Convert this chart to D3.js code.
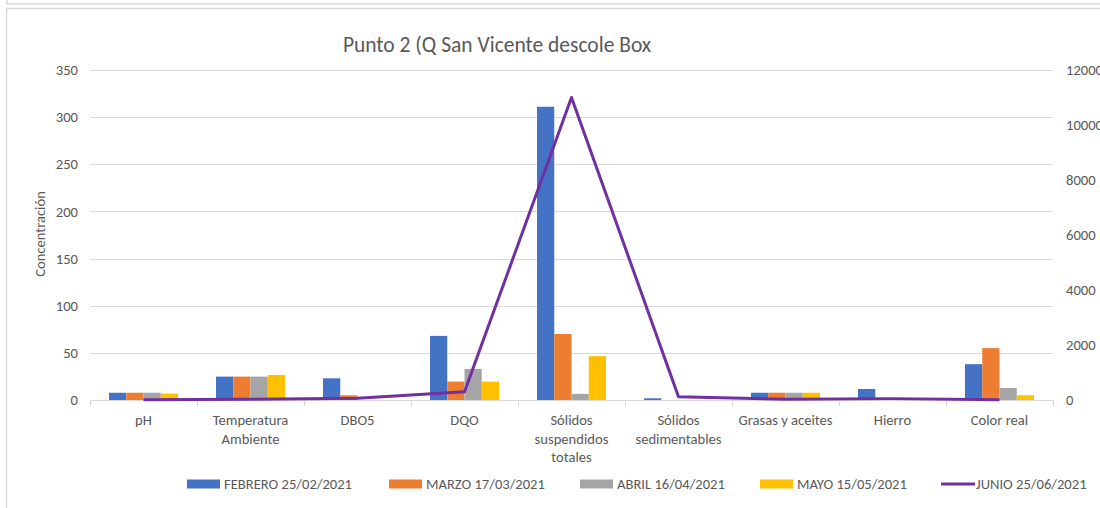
<!DOCTYPE html>
<html>
<head>
<meta charset="utf-8">
<script src="https://cdn.jsdelivr.net/npm/d3@7"></script>
<style>
  body { margin: 0; background: #fff; }
  svg { font-family: Carlito, Lato, "Open Sans", sans-serif; }
</style>
</head>
<body>
<svg id="chart" width="1100" height="508"></svg>
<script>
// Data
const categories = [
  ['pH'], ['Temperatura', 'Ambiente'], ['DBO5'], ['DQO'],
  ['Sólidos', 'suspendidos', 'totales'], ['Sólidos', 'sedimentables'],
  ['Grasas y aceites'], ['Hierro'], ['Color real']
];
const barSeries = ['FEBRERO 25/02/2021', 'MARZO 17/03/2021', 'ABRIL 16/04/2021', 'MAYO 15/05/2021'];
const lineSeries = 'JUNIO 25/06/2021';
const febrero = [7.7, 24.8, 23, 68, 311, 1.8, 7.7, 11.7, 38];
const marzo = [7.7, 24.8, 5, 19.5, 70, 0, 7.7, 0, 55];
const abril = [7.7, 24.8, 0, 33, 6.5, 0, 7.7, 0, 12.7];
const mayo = [6.8, 26.6, 0, 19.5, 46.5, 0, 7.7, 0.4, 5];
const junio = [5, 25, 60, 300, 11000, 120, 30, 50, 10];
const leftTicks = [0, 50, 100, 150, 200, 250, 300, 350];
const rightTicks = [0, 2000, 4000, 6000, 8000, 10000, 12000];
const colors = ['#4472C4', '#ED7D31', '#A5A5A5', '#FFC000'];
const lineColor = '#7030A0';

const svg = d3.select('#chart');
const textColor = '#595959';
const gridColor = '#d9d9d9';
const fontSize = '14.6px';

// chart borders
svg.append('path')
  .attr('d', 'M7,0V4H1100')
  .style('fill', 'none').style('stroke', gridColor).style('stroke-width', 1.5);
svg.append('path')
  .attr('d', 'M6.5,508V8.5H1100')
  .style('fill', 'none').style('stroke', gridColor).style('stroke-width', 1.5);

const plot = { left: 90, right: 1053, top: 70, bottom: 400 };

const x0 = d3.scaleBand()
  .domain(d3.range(categories.length))
  .range([plot.left, plot.right]);

const bw = x0.bandwidth();
const gap = 19;
const x1 = d3.scaleBand()
  .domain(d3.range(barSeries.length))
  .range([gap, bw - gap]);

const yL = d3.scaleLinear().domain([0, 350]).range([plot.bottom, plot.top]);
const yR = d3.scaleLinear().domain([0, 12000]).range([plot.bottom, plot.top]);

// Title
svg.append('text')
  .attr('x', 497).attr('y', 52)
  .attr('text-anchor', 'middle')
  .style('font-size', '21.5px')
  .style('fill', textColor)
  .text('Punto 2 (Q San Vicente descole Box');

// Gridlines
svg.append('g')
  .selectAll('line')
  .data(leftTicks.slice(1))
  .join('line')
  .attr('x1', plot.left).attr('x2', plot.right)
  .attr('y1', d => Math.round(yL(d)) + 0.5)
  .attr('y2', d => Math.round(yL(d)) + 0.5)
  .style('stroke', gridColor).style('stroke-width', 1);

// Left axis labels
const leftAxis = d3.axisLeft(yL).tickValues(leftTicks).tickSize(0).tickPadding(12);
const gL = svg.append('g')
  .attr('transform', `translate(${plot.left}, 0)`)
  .call(leftAxis);
gL.select('.domain').remove();
gL.selectAll('text').style('font-size', fontSize).style('fill', textColor)
  .style('font-family', 'Carlito, Lato, "Open Sans", sans-serif');

// Right axis labels
const rightAxis = d3.axisRight(yR).tickValues(rightTicks).tickSize(0).tickPadding(13)
  .tickFormat(d3.format('d'));
const gR = svg.append('g')
  .attr('transform', `translate(${plot.right}, 0)`)
  .call(rightAxis);
gR.select('.domain').remove();
gR.selectAll('text').style('font-size', fontSize).style('fill', textColor)
  .style('font-family', 'Carlito, Lato, "Open Sans", sans-serif');

// Y axis title
svg.append('text')
  .attr('transform', 'translate(45, 234) rotate(-90)')
  .attr('text-anchor', 'middle')
  .style('font-size', fontSize)
  .style('fill', textColor)
  .text('Concentración');

// Bars
const barData = [febrero, marzo, abril, mayo];
const barsG = svg.append('g');
barData.forEach((vals, s) => {
  barsG.selectAll(`rect.s${s}`)
    .data(vals)
    .join('rect')
    .attr('class', `s${s}`)
    .attr('x', (d, i) => x0(i) + x1(s))
    .attr('width', x1.bandwidth())
    .attr('y', d => yL(d))
    .attr('height', d => plot.bottom - yL(d))
    .style('fill', colors[s]);
});

// Category axis
svg.append('line')
  .attr('x1', plot.left).attr('x2', plot.right)
  .attr('y1', plot.bottom + 0.5).attr('y2', plot.bottom + 0.5)
  .style('stroke', gridColor).style('stroke-width', 1);
svg.append('g')
  .selectAll('line')
  .data(d3.range(categories.length + 1))
  .join('line')
  .attr('x1', i => Math.round(plot.left + i * bw) + 0.5)
  .attr('x2', i => Math.round(plot.left + i * bw) + 0.5)
  .attr('y1', plot.bottom).attr('y2', plot.bottom + 6)
  .style('stroke', gridColor);

const catLabels = svg.append('g')
  .selectAll('text')
  .data(categories)
  .join('text')
  .attr('text-anchor', 'middle')
  .attr('x', (d, i) => x0(i) + bw / 2)
  .attr('y', 425)
  .style('font-size', fontSize)
  .style('fill', textColor);
catLabels.selectAll('tspan')
  .data(d => d)
  .join('tspan')
  .attr('x', function () { return d3.select(this.parentNode).attr('x'); })
  .attr('dy', (d, i) => i === 0 ? 0 : 18.5)
  .text(d => d);

// Line series
const line = d3.line()
  .x((d, i) => x0(i) + bw / 2)
  .y(d => yR(d));
svg.append('path')
  .datum(junio)
  .attr('d', line)
  .style('fill', 'none')
  .style('stroke', lineColor)
  .style('stroke-width', 3)
  .style('stroke-linejoin', 'round');

// Legend
const legendY = 484;
const legendX = [187, 389, 580, 760, 941];
const legendItems = barSeries.concat([lineSeries]);
const legend = svg.append('g');
legendItems.forEach((name, i) => {
  const g = legend.append('g').attr('transform', `translate(${legendX[i]}, ${legendY})`);
  if (i < barSeries.length) {
    g.append('rect')
      .attr('x', 0).attr('y', -4.5)
      .attr('width', 33).attr('height', 9)
      .style('fill', colors[i]);
  } else {
    g.append('line')
      .attr('x1', 0).attr('x2', 34)
      .attr('y1', 0).attr('y2', 0)
      .style('stroke', lineColor).style('stroke-width', 3);
  }
  g.append('text')
    .attr('x', i < barSeries.length ? 37 : 35)
    .attr('y', 5)
    .style('font-size', fontSize)
    .style('fill', textColor)
    .text(name);
});
</script>
</body>
</html>
